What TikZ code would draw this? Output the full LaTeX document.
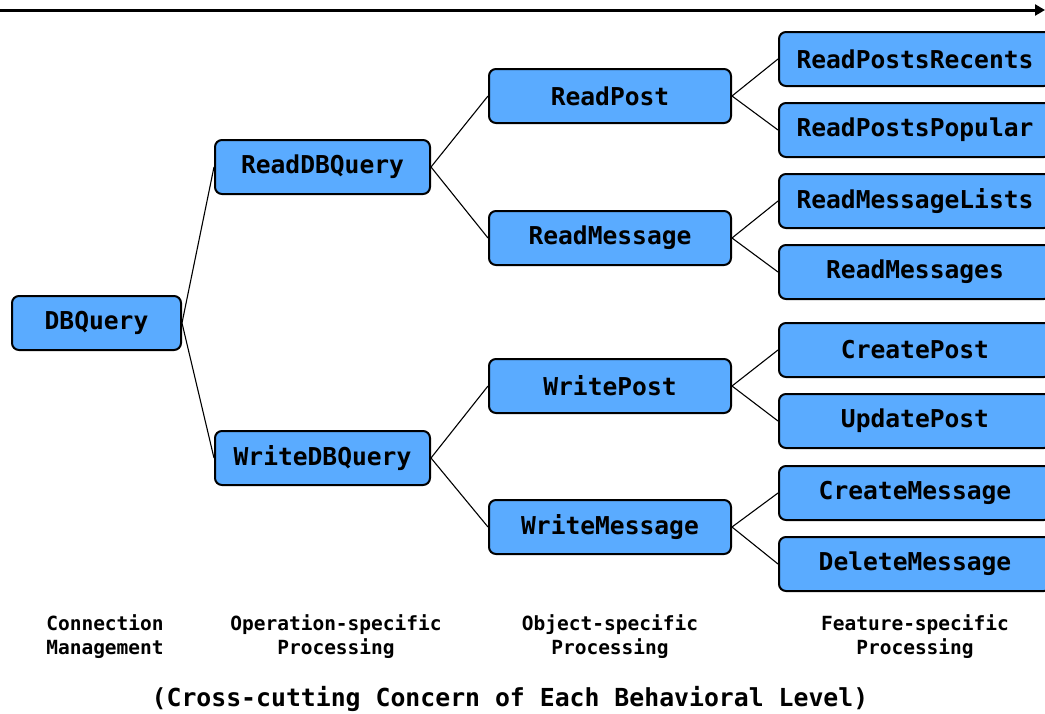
\documentclass[tikz,border=0pt]{standalone}
\usepackage{fontspec}
\setmonofont{DejaVu Sans Mono}
\usetikzlibrary{arrows.meta}
\definecolor{boxblue}{HTML}{5AABFF}
\begin{document}
\begin{tikzpicture}[x=1pt,y=-1pt,
  box/.style={draw=black, line width=2pt, fill=boxblue, rounded corners=7pt,
    minimum height=54pt, inner sep=0pt, font=\ttfamily\bfseries\fontsize{24.6}{28}\selectfont},
  lvA/.style={box, minimum width=169pt},
  lvB/.style={box, minimum width=215pt},
  lvC/.style={box, minimum width=242pt},
  lvD/.style={box, minimum width=272pt},
  link/.style={draw=black, line width=1.1pt},
  levelcap/.style={align=center, font=\ttfamily\bfseries\fontsize{19.5}{24}\selectfont, inner sep=0pt}]
\useasboundingbox (0,0) rectangle (1045,713);
\coordinate (axs) at (0,10);
\coordinate (axe) at (1045,10);
\draw[line width=3pt, -{Triangle[length=10pt,width=11pt]}] (axs) -- (axe);

\node[lvA] (db) at (96.5,323) {DBQuery};
\node[lvB] (rdb) at (322.5,167) {ReadDBQuery};
\node[lvB] (wdb) at (322.5,458) {WriteDBQuery};
\node[lvC] (rp) at (610,96) {ReadPost};
\node[lvC] (rm) at (610,238) {ReadMessage};
\node[lvC] (wp) at (610,386) {WritePost};
\node[lvC] (wm) at (610,527) {WriteMessage};
\node[lvD] (rpr) at (915,59) {ReadPostsRecents};
\node[lvD] (rpp) at (915,130) {ReadPostsPopular};
\node[lvD] (rml) at (915,201) {ReadMessageLists};
\node[lvD] (rms) at (915,272) {ReadMessages};
\node[lvD] (cp) at (915,350) {CreatePost};
\node[lvD] (up) at (915,421) {UpdatePost};
\node[lvD] (cm) at (915,493) {CreateMessage};
\node[lvD] (dm) at (915,564) {DeleteMessage};

\foreach \a/\b in {db/rdb, db/wdb, rdb/rp, rdb/rm, wdb/wp, wdb/wm,
  rp/rpr, rp/rpp, rm/rml, rm/rms, wp/cp, wp/up, wm/cm, wm/dm}
  \draw[link] (\a.east) -- (\b.west);

\node[levelcap] (c1) at (105,637) {Connection\\Management};
\node[levelcap] (c2) at (336,637) {Operation-specific\\Processing};
\node[levelcap] (c3) at (610,637) {Object-specific\\Processing};
\node[levelcap] (c4) at (915,637) {Feature-specific\\Processing};
\node[levelcap, font=\ttfamily\bfseries\fontsize{24.8}{28}\selectfont] (ttl) at (510,699) {(Cross-cutting Concern of Each Behavioral Level)};
\end{tikzpicture}
\end{document}
